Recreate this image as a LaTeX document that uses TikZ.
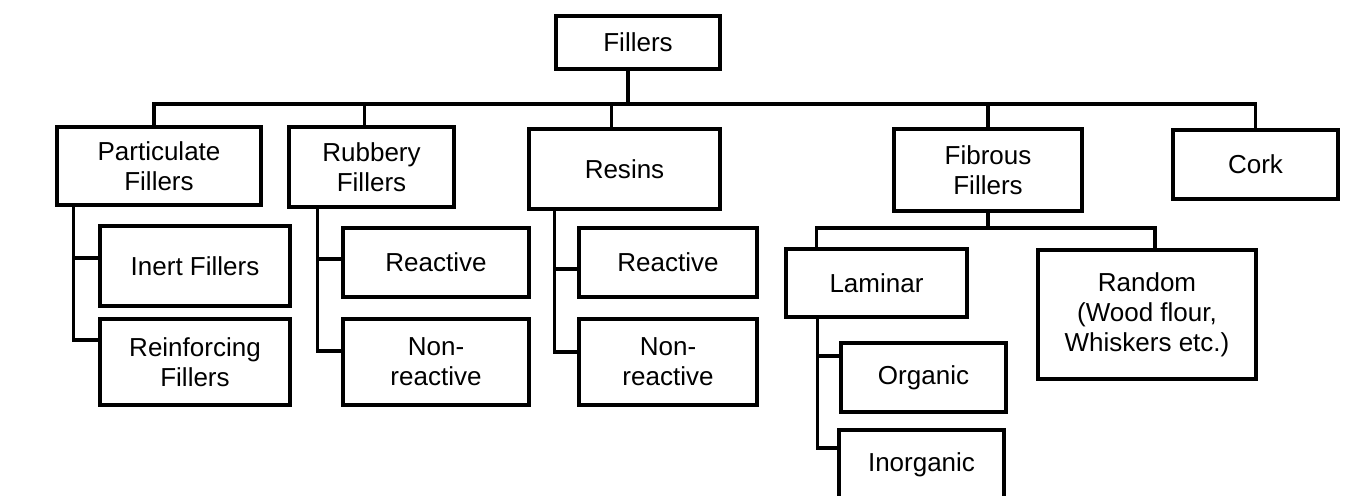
\documentclass[tikz,border=0pt]{standalone}
\usepackage{fontspec}
\setmainfont{Liberation Sans}
\tikzset{
	box/.style={draw, line width=1.8pt, align=center, inner sep=2pt, font=\fontsize{14.8pt}{17pt}\selectfont},
	wire/.style={draw, line width=1.8pt}
}
\begin{document}
\begin{tikzpicture}[x=0.02cm,y=-0.02cm]
		\clip (0,0) rectangle (1348,495);
		
		% top row
		\node[box, minimum width=3.28cm, minimum height=1.06cm] at (638,42.5) (fillers) {Fillers};
		\node[box, minimum width=4.08cm, minimum height=1.56cm] at (159,166) (part) {Particulate\\Fillers};
		\node[box, minimum width=3.30cm, minimum height=1.60cm] at (371.5,167) (rubber) {Rubbery\\Fillers};
		\node[box, minimum width=3.82cm, minimum height=1.60cm] at (624.5,169) (resins) {Resins};
		\node[box, minimum width=3.76cm, minimum height=1.64cm] at (988,170) (fibrous) {Fibrous\\Fillers};
		\node[box, minimum width=3.30cm, minimum height=1.38cm] at (1255.5,164.5) (cork) {Cork};
		
		% children
		\node[box, minimum width=3.80cm, minimum height=1.60cm] at (195,266) (inert) {Inert Fillers};
		\node[box, minimum width=3.80cm, minimum height=1.72cm] at (195,362) (reinf) {Reinforcing\\Fillers};
		\node[box, minimum width=3.72cm, minimum height=1.38cm] at (436,262.5) (rreact) {Reactive};
		\node[box, minimum width=3.72cm, minimum height=1.72cm] at (436,362) (rnon) {Non-\\reactive};
		\node[box, minimum width=3.56cm, minimum height=1.38cm] at (668,262.5) (sreact) {Reactive};
		\node[box, minimum width=3.56cm, minimum height=1.72cm] at (668,362) (snon) {Non-\\reactive};
		\node[box, minimum width=3.62cm, minimum height=1.36cm] at (876.5,283) (laminar) {Laminar};
		\node[box, minimum width=4.36cm, minimum height=2.58cm] at (1147,314.5) (random) {Random\\(Wood flour,\\Whiskers etc.)};
		\node[box, minimum width=3.30cm, minimum height=1.38cm] at (923.5,377.5) (organic) {Organic};
		\node[box, minimum width=3.30cm, minimum height=1.38cm] at (921.5,464.5) (inorganic) {Inorganic};
		
		% main bus
		\coordinate (bus) at (0,104);
		\draw[wire] ([xshift=-0.1cm]part.north) |- (cork.north |- bus) -- (cork.north);
		\draw[wire] ([xshift=-0.2cm]fillers.south) -- ([xshift=-0.2cm]fillers.south |- bus);
		\draw[wire] ([xshift=-0.14cm]rubber.north) -- ([xshift=-0.14cm]rubber.north |- bus);
		\draw[wire] ([xshift=-0.26cm]resins.north) -- ([xshift=-0.26cm]resins.north |- bus);
		\draw[wire] (fibrous.north) -- (fibrous.north |- bus);
		
		% fibrous bus
		\coordinate (fbus) at (0,228);
		\draw[wire] ([xshift=0.64cm]laminar.north west) |- ([xshift=0.16cm]random.north |- fbus) -- ([xshift=0.16cm]random.north);
		\draw[wire] (fibrous.south) -- (fibrous.south |- fbus);
		
		% trunks
		\coordinate (pt) at ([xshift=0.36cm]part.south west);
		\draw[wire] (pt) |- ([yshift=0.16cm]inert.west);
		\draw[wire] (pt) |- ([yshift=0.44cm]reinf.west);
		\coordinate (rt) at ([xshift=0.6cm]rubber.south west);
		\draw[wire] (rt) |- ([yshift=0.07cm]rreact.west);
		\draw[wire] (rt) |- ([yshift=0.22cm]rnon.west);
		\coordinate (st) at ([xshift=0.54cm]resins.south west);
		\draw[wire] (st) |- ([yshift=-0.13cm]sreact.west);
		\draw[wire] (st) |- ([yshift=0.2cm]snon.west);
		\coordinate (lt) at ([xshift=0.66cm]laminar.south west);
		\draw[wire] (lt) |- ([yshift=0.43cm]organic.west);
		\draw[wire] (lt) |- ([yshift=0.33cm]inorganic.west);
\end{tikzpicture}
\end{document}
